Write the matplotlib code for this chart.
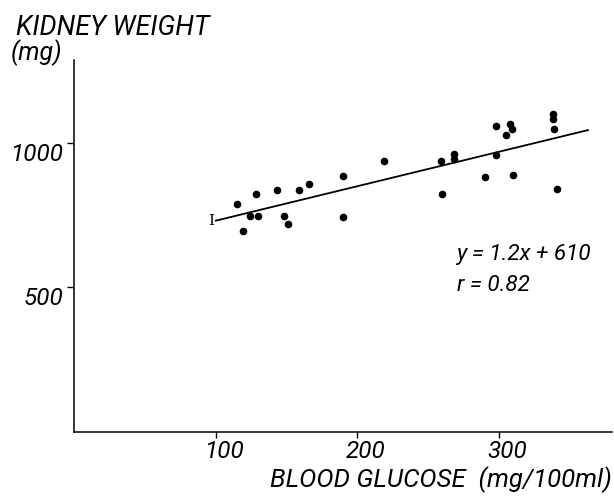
import matplotlib.pyplot as plt
from matplotlib.transforms import ScaledTranslation

# blood glucose (mg/100ml) vs kidney weight (mg)
glucose = [115, 128, 143, 159, 166, 190, 124, 130, 148, 151, 119, 190,
           219, 259, 268, 268, 260, 290, 298, 298, 305, 308, 309, 310,
           338, 338, 339, 341]
kidney = [787, 824, 838, 837, 858, 887, 747, 746, 747, 718, 694, 741,
          937, 939, 964, 945, 824, 882, 1060, 960, 1030, 1068, 1048, 890,
          1102, 1085, 1048, 841]

slope = 1.2
intercept = 610
fit_range = [100, 363]

x_ticks = [100, 200, 300]
y_ticks = [500, 1000]

font = dict(family=['Roboto', 'DejaVu Sans'], style='italic')

fig = plt.figure(figsize=(6.14, 4.98), dpi=100)
ax = fig.add_axes([0.1213, 0.1325, 0.8754, 0.747])

ax.scatter(glucose, kidney, s=20, color='black', zorder=3)
fit_y = [slope * x + intercept for x in fit_range]
ax.plot(fit_range, fit_y, color='black', lw=1.3)
ax.text(fit_range[0] - 1, fit_y[0], 'I', family='DejaVu Serif', fontsize=11,
        ha='right', va='center')

ax.set_xlim(0, 380)
ax.set_ylim(-7, 1290)
ax.spines['top'].set_visible(False)
ax.spines['right'].set_visible(False)
ax.spines['left'].set_linewidth(1.1)
ax.spines['bottom'].set_linewidth(1.1)

ax.set_xticks(x_ticks)
ax.set_xticklabels([str(v) for v in x_ticks], **font, fontsize=17.5)
ax.set_yticks(y_ticks)
ax.set_yticklabels([str(v) for v in y_ticks], **font, fontsize=17.5)
ax.tick_params(axis='x', direction='out', length=4, width=1, pad=2)
ax.tick_params(axis='y', direction='out', length=5, width=1, pad=3)

shift = ScaledTranslation(8 / 100, 0, fig.dpi_scale_trans)
for lbl in ax.get_xticklabels():
    lbl.set_transform(lbl.get_transform() + shift)
for lbl in ax.get_yticklabels():
    lbl.set_verticalalignment('top')

ax.text(0.712, 0.478, 'y = 1.2x + 610', transform=ax.transAxes,
        **font, fontsize=16.2, ha='left', va='center')
ax.text(0.712, 0.395, 'r = 0.82', transform=ax.transAxes,
        **font, fontsize=16.2, ha='left', va='center')

fig.text(16 / 614, 1 - 28 / 498, 'KIDNEY WEIGHT', **font, fontsize=19.4,
         ha='left', va='center')
fig.text(11 / 614, 1 - 53 / 498, '(mg)', **font, fontsize=18,
         ha='left', va='center')
fig.text(612 / 614, 1 - 480 / 498, 'BLOOD GLUCOSE  (mg/100ml)', **font,
         fontsize=18.5, ha='right', va='center')

fig.savefig('out.png', dpi=100)
